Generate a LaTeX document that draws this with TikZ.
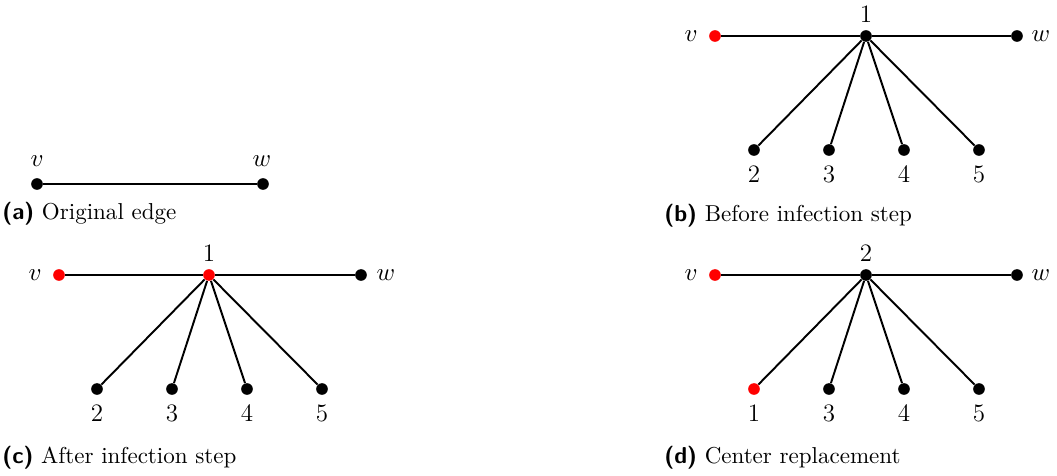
\documentclass[tikz,border=0pt]{standalone}
\begin{document}
\begin{tikzpicture}[x=0.4386pt,y=-0.4386pt,
  dot/.style={circle,fill=black,inner sep=0pt,minimum size=5.1pt},
  reddot/.style={dot,fill=red},
  lbl/.style={inner sep=0pt,font=\fontsize{11}{13}\selectfont},
  captxt/.style={inner sep=0pt,anchor=west,font=\fontsize{10.1}{12}\selectfont},
  edgeline/.style={line width=0.85pt}]
\useasboundingbox (0,0) rectangle (1057,475);
% (a)
\node[dot] (av) at (37,184) {};
\node[dot] (aw) at (263,184) {};
\draw[edgeline] (av) -- (aw);
\node[lbl] (avl) at (37,161) {$v$};
\node[lbl] (awl) at (262,161) {$w$};
\node[captxt] (capa) at (2,214) {\textsf{\textbf{(a)}} Original edge};
% (b)
\node[reddot] (bv) at (715,36) {};
\node[dot] (bc) at (866,36) {};
\node[dot] (bw) at (1017,36) {};
\node[dot] (b2) at (754,150) {};
\node[dot] (b3) at (829,150) {};
\node[dot] (b4) at (904,150) {};
\node[dot] (b5) at (979,150) {};
\draw[edgeline] (bv) -- (bc) -- (bw);
\foreach \i in {2,3,4,5} \draw[edgeline] (bc) -- (b\i);
\node[lbl] (bvl) at (691,36) {$v$};
\node[lbl] (bwl) at (1041,36) {$w$};
\node[lbl] (bcl) at (866,14) {1};
\node[lbl] (b2l) at (754,174) {2};
\node[lbl] (b3l) at (829,174) {3};
\node[lbl] (b4l) at (904,174) {4};
\node[lbl] (b5l) at (979,174) {5};
\node[captxt] (capb) at (664,216) {\textsf{\textbf{(b)}} Before infection step};
% (c)
\node[reddot] (cv) at (59,275) {};
\node[reddot] (cc) at (209,275) {};
\node[dot] (cw) at (361,275) {};
\node[dot] (c2) at (97,389) {};
\node[dot] (c3) at (172,389) {};
\node[dot] (c4) at (247,389) {};
\node[dot] (c5) at (322,389) {};
\draw[edgeline] (cv) -- (cc) -- (cw);
\foreach \i in {2,3,4,5} \draw[edgeline] (cc) -- (c\i);
\node[lbl] (cvl) at (35,275) {$v$};
\node[lbl] (cwl) at (386,275) {$w$};
\node[lbl] (ccl) at (209,253) {1};
\node[lbl] (c2l) at (97,413) {2};
\node[lbl] (c3l) at (172,413) {3};
\node[lbl] (c4l) at (247,413) {4};
\node[lbl] (c5l) at (322,413) {5};
\node[captxt] (capc) at (2,458) {\textsf{\textbf{(c)}} After infection step};
% (d)
\node[reddot] (dv) at (715,275) {};
\node[dot] (dc) at (866,275) {};
\node[dot] (dw) at (1017,275) {};
\node[reddot] (d1) at (754,389) {};
\node[dot] (d3) at (829,389) {};
\node[dot] (d4) at (904,389) {};
\node[dot] (d5) at (979,389) {};
\draw[edgeline] (dv) -- (dc) -- (dw);
\foreach \i in {1,3,4,5} \draw[edgeline] (dc) -- (d\i);
\node[lbl] (dvl) at (691,275) {$v$};
\node[lbl] (dwl) at (1041,275) {$w$};
\node[lbl] (dcl) at (866,253) {2};
\node[lbl] (d1l) at (754,413) {1};
\node[lbl] (d3l) at (829,413) {3};
\node[lbl] (d4l) at (904,413) {4};
\node[lbl] (d5l) at (979,413) {5};
\node[captxt] (capd) at (664,458) {\textsf{\textbf{(d)}} Center replacement};
\end{tikzpicture}
\end{document}
